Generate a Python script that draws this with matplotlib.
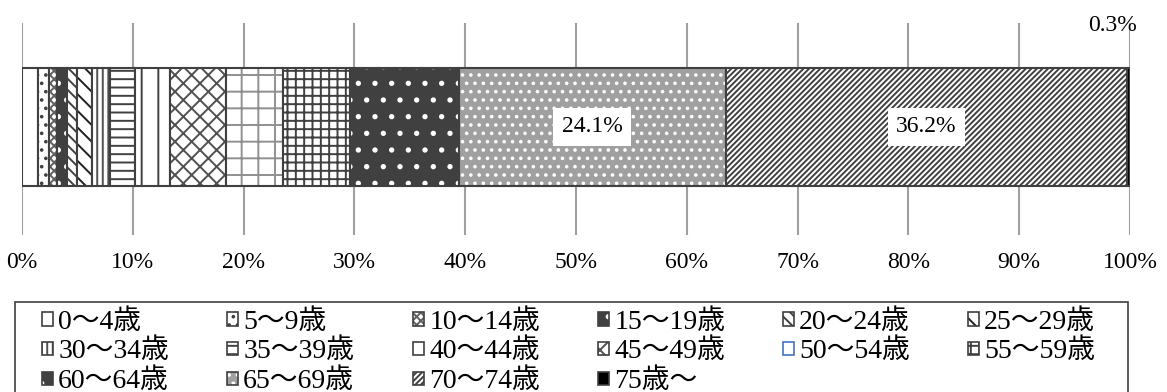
import matplotlib
matplotlib.use("Agg")
import matplotlib.pyplot as plt
import matplotlib.colors as mcolors
from matplotlib.patches import Rectangle

plt.rcParams['font.family'] = ['Liberation Serif', 'Noto Sans CJK JP']
plt.rcParams['hatch.linewidth'] = 1.4

# age groups and their share (%)
ages = ['0～4歳', '5～9歳', '10～14歳', '15～19歳', '20～24歳', '25～29歳',
        '30～34歳', '35～39歳', '40～44歳', '45～49歳', '50～54歳', '55～59歳',
        '60～64歳', '65～69歳', '70～74歳', '75歳～']
share = [1.4, 1.0, 0.8, 0.9, 0.9, 1.3, 1.6, 2.3, 3.2, 5.0, 5.2, 6.0, 9.8, 24.1, 36.2, 0.3]
labelled = {13: '24.1%', 14: '36.2%'}
ticks = [0, 10, 20, 30, 40, 50, 60, 70, 80, 90, 100]

# (face, hatch, hatch colour) for each segment, black & white print style
styles = [
    ('white', None, '#404040'),
    ('white', '..', '#404040'),
    ('white', 'xxxx', '#606060'),
    ('#404040', '.', 'white'),
    ('white', '\\\\\\', '#404040'),
    ('white', '\\\\', '#202020'),
    ('white', '|||', '#505050'),
    ('white', '--', '#404040'),
    ('white', '|', '#404040'),
    ('white', 'xx', '#505050'),
    ('white', '+', '#909090'),
    ('white', '++', '#404040'),
    ('#404040', '.', 'white'),
    ('#a0a0a0', '..', 'white'),
    ('white', '//////', '#404040'),
    ('black', None, 'black'),
]

W, H = 1167, 392
fig = plt.figure(figsize=(W / 100, H / 100), dpi=100)
ax = fig.add_axes([22 / W, 1 - 235 / H, 1108 / W, 212 / H])

left = 0
for i in range(len(share)):
    face, hatch, hc = styles[i]
    b = ax.barh(0.51, share[i], left=left, height=0.557, color=face,
                edgecolor='#404040', linewidth=1.5, hatch=hatch, zorder=3)[0]
    b._hatch_color = mcolors.to_rgba(hc)
    if i in labelled:
        ax.text(left + share[i] / 2, 0.51, labelled[i], ha='center', va='center',
                fontsize=17, zorder=5,
                bbox=dict(facecolor='white', edgecolor='none', pad=6))
    left += share[i]

ax.text(98.4, 0.99, '0.3%', ha='center', va='center', fontsize=17, clip_on=False)

ax.set_xlim(0, 100)
ax.set_ylim(0, 1)
ax.set_xticks(ticks)
ax.set_xticklabels([str(t) + '%' for t in ticks], fontsize=17)
ax.set_yticks([])
ax.tick_params(axis='x', length=0, pad=12)
ax.grid(axis='x', color='#a0a0a0', linewidth=1.5, zorder=0)
ax.set_axisbelow(True)
for s in ax.spines.values():
    s.set_visible(False)

# legend frame (bottom edge is below the picture)
fig.patches.append(Rectangle((15 / W, -0.05), 1113 / W, 1 - 302 / H + 0.05,
                             transform=fig.transFigure, facecolor='none',
                             edgecolor='#404040', linewidth=1.2))

handles = []
for i in range(len(share)):
    face, hatch, hc = styles[i]
    ec = '#404040'
    if i == 10:  # the odd blue marker in the original
        ec, hatch = '#4472c4', None
    p = Rectangle((0, 0), 1, 1, facecolor=face, edgecolor=ec, linewidth=1.2, hatch=hatch)
    p._hatch_color = mcolors.to_rgba(hc)
    handles.append(p)

# legend laid out row-wise, one legend per column
col_x = [42, 227, 413, 598, 783, 968]
for c in range(6):
    idx = [r * 6 + c for r in range(3) if r * 6 + c < len(share)]
    fig.legend([handles[k] for k in idx], [ages[k] for k in idx],
               loc='upper left', bbox_to_anchor=(col_x[c] / W, 1 - 309 / H),
               frameon=False, borderpad=0, borderaxespad=0, fontsize=20,
               handlelength=0.38, handleheight=0.38, handletextpad=0.2,
               labelspacing=0.15)

fig.savefig('out.png', dpi=100)
